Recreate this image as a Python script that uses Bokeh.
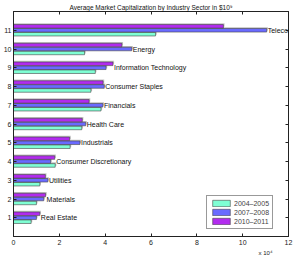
from bokeh.plotting import figure
from bokeh.models import (FixedTicker, LinearAxis, Range1d, Legend, LegendItem,
                          LabelSet, ColumnDataSource, Title)
from bokeh.core.properties import value
from bokeh.embed import file_html
from bokeh.resources import INLINE

categories = [1, 2, 3, 4, 5, 6, 7, 8, 9, 10, 11]
sectors = ["Real Estate", "Materials", "Utilities", "Consumer Discretionary",
           "Industrials", "Health Care", "Financials", "Consumer Staples",
           "Information Technology", "Energy", "Telecom"]
v2004 = [0.77, 1.00, 1.15, 1.82, 2.47, 2.98, 3.82, 3.38, 3.57, 3.10, 6.20]
v2007 = [1.00, 1.32, 1.50, 1.62, 2.90, 3.15, 3.90, 3.96, 4.04, 5.16, 11.05]
v2010 = [1.15, 1.40, 1.39, 1.80, 2.45, 3.00, 3.30, 3.91, 4.34, 4.73, 9.16]
series_names = ["2004\u20132005", "2007\u20132008", "2010\u20132011"]
colors = ["#7FFFD4", "#6A6AFF", "#B22BEF"]
xticks = [0, 2, 4, 6, 8, 10, 12]

FONT = "'Liberation Sans', Arial, Helvetica, sans-serif"

p = figure(width=295, height=255, output_backend="svg", toolbar_location=None,
           x_range=Range1d(0, 12), y_range=Range1d(0, 12),
           min_border_left=0, min_border_right=7, min_border_top=0,
           min_border_bottom=0, x_axis_location=None, y_axis_location=None)
p.grid.visible = False
p.outline_line_color = "#222222"
p.background_fill_color = "white"
p.border_fill_color = "white"

def style_axis(ax, ticks, show_labels):
    ax.major_tick_in = 3
    ax.major_tick_out = 0
    ax.minor_tick_in = 0
    ax.minor_tick_out = 0
    ax.axis_line_color = "#222222"
    ax.major_tick_line_color = "#222222"
    ax.major_label_text_font = FONT
    ax.major_label_text_color = "#222222"
    ax.major_label_text_font_size = "7px"
    ax.major_label_standoff = 2
    if not show_labels:
        ax.major_label_overrides = {t: "" for t in ticks}
        ax.major_label_standoff = 0

bottom = LinearAxis(ticker=FixedTicker(ticks=xticks))
top = LinearAxis(ticker=FixedTicker(ticks=xticks))
left = LinearAxis(ticker=FixedTicker(ticks=categories))
right = LinearAxis(ticker=FixedTicker(ticks=categories))
style_axis(bottom, xticks, True)
style_axis(left, categories, True)
style_axis(top, xticks, False)
style_axis(right, categories, False)
bottom.major_label_standoff = 3
p.add_layout(bottom, "below")
p.add_layout(left, "left")
p.add_layout(top, "above")
p.add_layout(right, "right")

bar_h = 0.19
offsets = [-0.21, 0.0, 0.21]
series = [v2004, v2007, v2010]
dx, dy = 0.05, 0.07

# shadows
for vals, off in zip(series, offsets):
    p.hbar(y=[c + off + dy for c in categories], left=0,
           right=[v + dx for v in vals], height=bar_h,
           fill_color="#C4C4C4", line_color=None)

renderers = []
for vals, off, col in zip(series, offsets, colors):
    r = p.hbar(y=[c + off for c in categories], left=0, right=vals,
               height=bar_h, fill_color=col, line_color="#444444",
               line_width=0.6)
    renderers.append(r)

label_src = ColumnDataSource(dict(
    x=[max(a, b, c) for a, b, c in zip(v2004, v2007, v2010)],
    y=categories, text=sectors))
p.add_layout(LabelSet(x="x", y="y", text="text", source=label_src,
                      x_offset=1, text_baseline="middle", text_align="left",
                      text_font=value(FONT), text_font_size=value("7px"),
                      text_color="#111111"))

legend = Legend(items=[LegendItem(label=n, renderers=[r])
                       for n, r in zip(series_names, renderers)],
                location=(193, 7), glyph_width=22, glyph_height=8,
                label_height=8, label_text_font_size="7px",
                label_text_font=FONT, label_standoff=2, spacing=1,
                padding=3, margin=0, border_line_color="#333333",
                border_line_width=1, background_fill_color="white",
                background_fill_alpha=1.0)
p.add_layout(legend, "center")

p.add_layout(Title(text="Average Market Capitalization by Industry Sector in $10\u2079",
                   align="center", text_font=FONT, text_font_size="6.5px",
                   text_font_style="normal", text_color="#111111",
                   standoff=2), "above")
p.add_layout(Title(text="x 10\u2074", align="right", text_font=FONT,
                   text_font_size="6px", text_font_style="normal",
                   text_color="#222222", standoff=0, offset=16), "below")

open("out.html", "w").write(file_html(p, INLINE))
